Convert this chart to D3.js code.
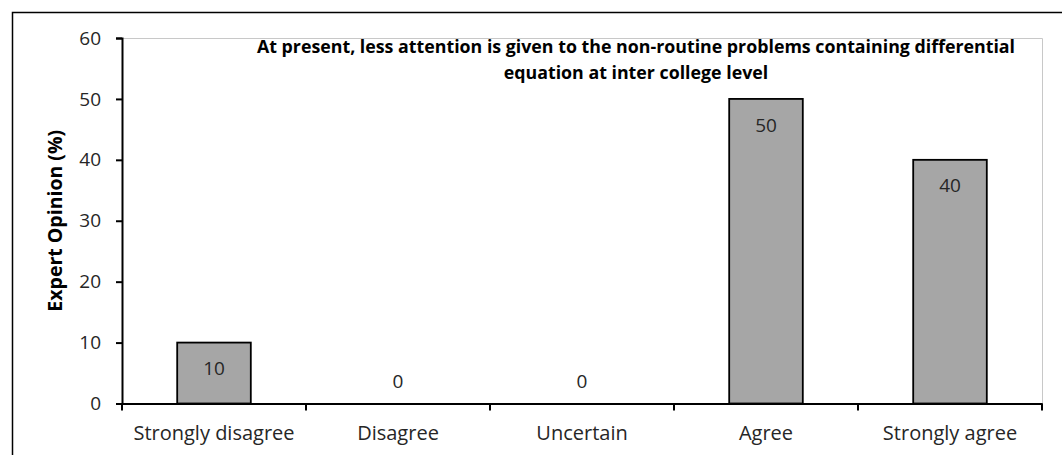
<!DOCTYPE html>
<html><head><meta charset="utf-8">
<script src="https://cdn.jsdelivr.net/npm/d3@7/dist/d3.min.js"></script>
<style>
html,body{margin:0;padding:0;background:#fff;}
svg text{font-family:"Open Sans",Lato,sans-serif;}
</style></head>
<body>
<svg id="chart" width="1062" height="455"></svg>
<script>
const categories = ["Strongly disagree","Disagree","Uncertain","Agree","Strongly agree"];
const values = [10, 0, 0, 50, 40];
const yTicks = [0, 10, 20, 30, 40, 50, 60];
const titleLines = ["At present, less attention is given to the non-routine problems containing differential","equation at inter college level"];
const yLabel = "Expert Opinion (%)";

const FONT = '"Open Sans",Lato,sans-serif';
const svg = d3.select("#chart");
const m = {left:122, right:1042, top:38, bottom:403.5};

// outer frame (top and left edges)
svg.append("path").attr("d","M12.5,455 L12.5,12.5 L1062,12.5")
  .attr("fill","none").attr("stroke","#000").attr("stroke-width",1.5);

const x = d3.scaleBand().domain(categories).range([m.left, m.right]).paddingInner(0.6).paddingOuter(0.3);
const xb = d3.scaleBand().domain(categories).range([m.left, m.right]);
const y = d3.scaleLinear().domain([0, 60]).range([m.bottom, m.top]);

// plot area light border top & right
svg.append("path").attr("d",`M${m.left},${m.top+0.5} L${m.right+0.5},${m.top+0.5} L${m.right+0.5},${m.bottom}`)
  .attr("fill","none").attr("stroke","#c8c8c8").attr("stroke-width",1);

// bars
svg.append("g").selectAll("rect").data(values).join("rect")
  .attr("x",(d,i)=>x(categories[i]))
  .attr("width",x.bandwidth())
  .attr("y",d=>y(d))
  .attr("height",d=>y(0)-y(d))
  .attr("fill","#a6a6a6").attr("stroke","#000").attr("stroke-width",1.8)
  .style("display",d=>d===0?"none":null);

// value labels
svg.append("g").selectAll("text").data(values).join("text")
  .attr("x",(d,i)=>x(categories[i])+x.bandwidth()/2)
  .attr("y",d=>d===0? y(0)-22 : y(d)+26)
  .attr("dy","0.35em")
  .attr("text-anchor","middle")
  .attr("font-size",19).attr("fill","#262626")
  .text(d=>d);

// y axis
const yAxis = svg.append("g").attr("transform",`translate(${m.left},0)`)
  .call(d3.axisLeft(y).tickValues(yTicks).tickSize(6).tickPadding(15).tickFormat(d3.format("d")));
yAxis.select(".domain").attr("stroke","#000").attr("stroke-width",2);
yAxis.selectAll(".tick line").attr("stroke","#000").attr("stroke-width",2);
yAxis.selectAll("text").attr("font-size",19).attr("fill","#262626").style("font-family",FONT);

// x axis
const xAxis = svg.append("g").attr("transform",`translate(0,${m.bottom})`)
  .call(d3.axisBottom(xb).tickSize(0).tickPadding(22));
xAxis.select(".domain").attr("stroke","#000").attr("stroke-width",2);
xAxis.selectAll("text").attr("font-size",20).attr("fill","#262626").style("font-family",FONT);
// boundary ticks
const bounds = categories.map(c=>xb(c)).concat([m.right]);
xAxis.selectAll(".bt").data(bounds).join("line").attr("class","bt")
  .attr("x1",d=>d).attr("x2",d=>d).attr("y1",0).attr("y2",7)
  .attr("stroke","#000").attr("stroke-width",2);

// y label
svg.append("text")
  .attr("transform",`translate(62,${(m.top+m.bottom)/2}) rotate(-90)`)
  .attr("text-anchor","middle").attr("font-size",19.5).attr("font-weight","bold").attr("fill","#000")
  .text(yLabel);

// title
const tt = svg.append("text").attr("text-anchor","middle").attr("font-size",17.8).attr("font-weight","bold").attr("fill","#000");
titleLines.forEach((t,i)=>{
  tt.append("tspan").attr("x",636).attr("y",53+i*26).text(t);
});
</script>
</body></html>
